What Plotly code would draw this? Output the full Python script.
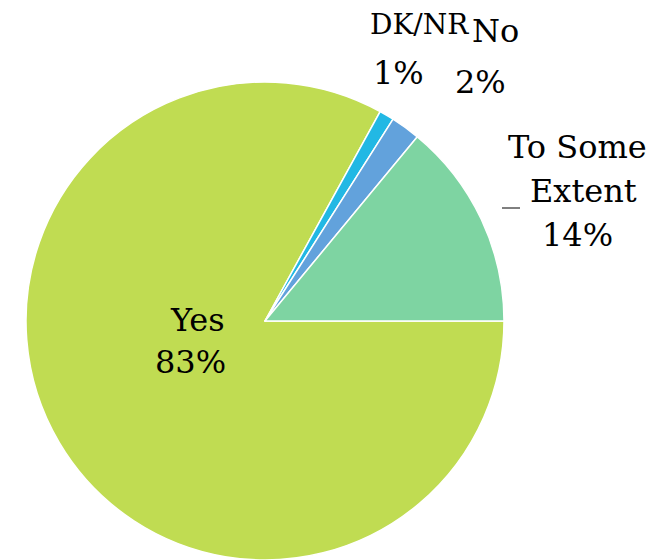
import plotly.graph_objects as go

# --- data ---
labels = ["Yes", "DK/NR", "No", "To Some Extent"]
values = [83, 1, 2, 14]
colors = ["#c0dc52", "#22b8e4", "#62a2dc", "#7ed4a2"]

# page has an 8px body margin, so draw in a slightly smaller figure
OFF = 8
W, H = 657 - OFF, 560 - OFF
FONT = "Rockwell, 'DejaVu Serif', serif"


def px(x, y):
    # page pixel -> paper coords
    return (x - OFF) / W, 1 - (y - OFF) / H


cx, cy, r = 265, 321, 239
x0, _ = px(cx - r, 0)
x1, _ = px(cx + r, 0)
_, y1 = px(0, cy - r)

fig = go.Figure()
fig.add_trace(go.Pie(
    labels=labels, values=values, sort=False,
    direction="clockwise", rotation=90,
    marker=dict(colors=colors, line=dict(color="white", width=1.5)),
    textinfo="none", hoverinfo="label+percent",
    domain=dict(x=[x0, x1], y=[0, y1]),
    showlegend=False,
))

# label lines: (text, x, y, size) in page pixels
pct = {l: f"{v}%" for l, v in zip(labels, values)}
label_lines = [
    ("Yes", 197, 320, 32), (pct["Yes"], 191, 362, 32),
    ("DK/NR", 419, 24, 28), (pct["DK/NR"], 398, 73, 32),
    ("No", 495, 31, 32), (pct["No"], 481, 82, 32),
    ("To Some", 577, 147, 32), ("Extent", 583, 191, 32),
    (pct["To Some Extent"], 577, 235, 32),
]
for txt, x, y, s in label_lines:
    ax, ay = px(x, y)
    fig.add_annotation(
        text=txt, x=ax, y=ay, xref="paper", yref="paper",
        showarrow=False, xanchor="center", yanchor="middle",
        font=dict(family=FONT, size=s, color="black"),
    )

# small leader line next to "Extent"
lx0, ly = px(502, 208)
lx1, _ = px(520, 208)
fig.add_shape(type="line", xref="paper", yref="paper",
              x0=lx0, x1=lx1, y0=ly, y1=ly,
              line=dict(color="black", width=1))

fig.update_layout(
    width=W, height=H,
    margin=dict(l=0, r=0, t=0, b=0),
    paper_bgcolor="white", plot_bgcolor="white",
)

fig.write_html("out.html")
